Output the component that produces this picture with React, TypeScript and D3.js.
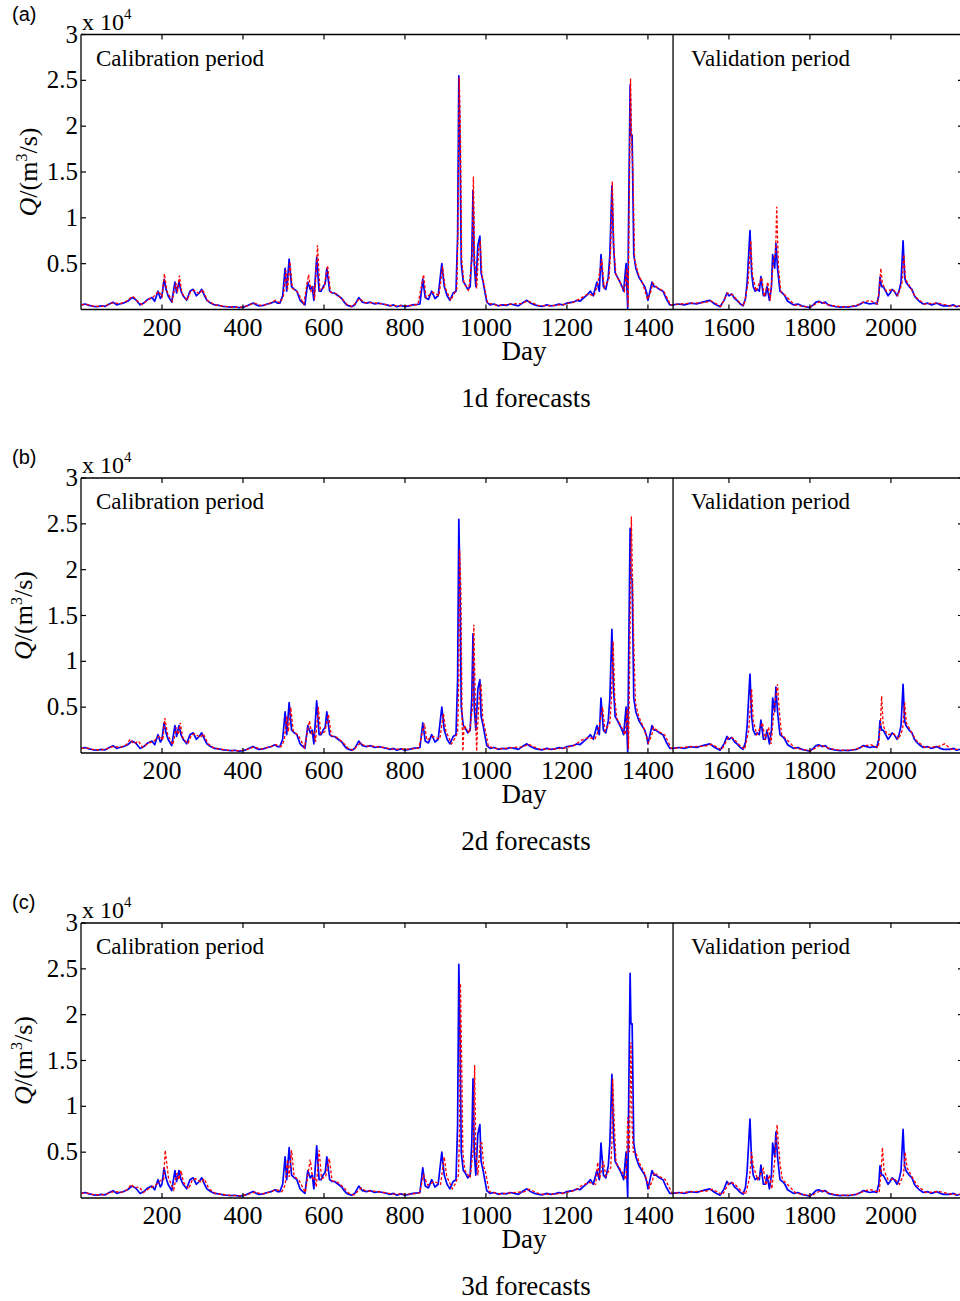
import React from "react";
import * as d3 from "d3";

// Observed daily discharge (day, m3/s)
const observed: [number, number][] = [
[1,500],[10,600],[20,450],[30,350],[40,300],[50,400],[60,350],[70,600],[79,800],[88,500],[95,600],[105,700],[115,900],[126,1300],[135,1100],[146,500],[155,700],[165,1100],[175,1300],[182,900],[190,2000],[196,1200],[200,1500],[205,3300],[210,2200],[215,1500],[224,800],[232,3000],[236,1800],[242,3000],[247,2000],[252,1500],[261,1000],[269,2000],[277,2200],[285,1500],[292,1800],[298,2200],[305,1500],[311,1000],[320,700],[330,500],[340,450],[350,350],[360,300],[370,250],[380,300],[390,200],[400,250],[410,400],[425,700],[433,500],[440,400],[450,450],[460,600],[470,700],[479,900],[485,700],[491,700],[498,1500],[504,4500],[508,2000],[514,5500],[520,2500],[527,2200],[533,2000],[541,1000],[548,700],[553,500],[560,3000],[566,2200],[571,2500],[575,1000],[582,5700],[588,2000],[593,2000],[598,2500],[603,2800],[607,4500],[614,2000],[620,1800],[626,1800],[635,1500],[644,1200],[650,800],[656,500],[662,400],[668,300],[676,500],[686,1300],[695,800],[705,700],[715,800],[725,600],[735,700],[745,600],[755,500],[763,400],[772,500],[780,300],[790,450],[800,300],[810,400],[820,500],[830,550],[837,600],[844,3300],[850,1300],[858,1100],[866,2000],[874,1200],[882,1500],[891,5000],[897,2500],[904,1500],[911,1000],[919,1800],[926,2000],[930,8000],[933,25500],[936,18000],[939,5000],[944,3000],[948,2800],[955,2200],[961,2500],[965,6000],[968,13000],[971,5000],[975,2500],[980,7000],[985,8000],[988,4000],[993,3000],[1002,800],[1010,500],[1020,600],[1030,400],[1040,500],[1050,450],[1060,600],[1070,500],[1080,400],[1090,700],[1101,1000],[1110,700],[1120,500],[1130,400],[1140,350],[1150,500],[1160,400],[1170,450],[1180,600],[1190,500],[1200,700],[1215,800],[1225,1000],[1232,900],[1242,1300],[1250,1600],[1258,2000],[1265,1500],[1274,3000],[1280,2000],[1284,6000],[1290,2500],[1296,2200],[1302,3500],[1306,6000],[1311,13500],[1315,7000],[1319,4000],[1325,3500],[1331,3000],[1336,2500],[1340,2000],[1346,5000],[1350,100],[1353,13000],[1356,24500],[1358,19000],[1361,19000],[1365,6000],[1370,4500],[1378,3500],[1385,3000],[1392,2500],[1397,1800],[1400,1000],[1405,2000],[1410,3000],[1415,2500],[1420,2500],[1428,2200],[1437,2000],[1445,1200],[1454,500],[1462,500],[1475,600],[1490,500],[1505,700],[1520,600],[1535,800],[1553,1000],[1565,600],[1578,300],[1588,1000],[1595,1800],[1600,1500],[1607,1700],[1614,1200],[1620,1000],[1628,600],[1635,400],[1641,1200],[1645,3000],[1652,8600],[1656,4000],[1660,2500],[1665,2000],[1670,2200],[1675,2000],[1679,3600],[1685,1500],[1690,1500],[1694,2500],[1700,1000],[1705,2500],[1708,6000],[1713,4500],[1716,7200],[1720,4500],[1726,2000],[1732,1800],[1738,1500],[1745,900],[1752,700],[1760,500],[1770,600],[1780,400],[1790,300],[1800,200],[1808,500],[1815,800],[1822,900],[1830,700],[1838,800],[1845,500],[1855,400],[1865,300],[1875,250],[1885,300],[1895,250],[1905,350],[1915,400],[1925,600],[1931,800],[1940,700],[1948,600],[1958,700],[1965,600],[1970,1500],[1973,3500],[1977,2500],[1981,2500],[1987,2000],[1993,1500],[1998,1800],[2003,2200],[2008,2000],[2015,1500],[2020,2000],[2025,3000],[2030,7500],[2034,3500],[2037,3000],[2045,2500],[2052,2200],[2058,1500],[2063,1200],[2070,900],[2080,600],[2090,700],[2100,500],[2113,700],[2122,500],[2130,400],[2145,400],[2155,500],[2162,300],[2172,400]
];

// 1-day-ahead forecasts
const forecast1d: [number, number][] = [
[1,500],[15,550],[30,380],[45,330],[60,380],[72,650],[82,750],[95,600],[110,850],[128,1450],[140,900],[150,550],[167,1100],[177,1300],[192,2000],[200,1400],[206,3900],[212,2000],[225,900],[234,2900],[238,1900],[243,3700],[249,1800],[262,1000],[271,2000],[279,2100],[293,1700],[300,2200],[312,1000],[330,500],[350,380],[370,270],[392,230],[412,420],[427,700],[445,420],[462,600],[480,1000],[492,700],[500,1500],[506,4300],[510,2200],[516,5200],[522,2300],[535,1900],[550,600],[562,3800],[568,2000],[573,2400],[577,1100],[584,7000],[590,2100],[600,2400],[609,4800],[616,1900],[630,1700],[646,1100],[658,500],[670,320],[688,1200],[700,750],[720,750],[745,600],[765,420],[790,430],[810,420],[832,550],[846,3800],[852,1300],[868,1900],[884,1500],[893,4700],[899,2400],[913,1000],[921,1700],[928,2200],[931,9000],[934,25300],[937,19000],[940,5500],[946,2800],[957,2100],[966,5500],[969,14500],[972,5500],[977,2300],[982,6500],[986,7500],[990,3800],[995,2800],[1004,700],[1030,430],[1060,580],[1090,680],[1103,950],[1130,420],[1160,420],[1190,520],[1217,800],[1233,1200],[1252,1700],[1267,1500],[1276,2800],[1286,5500],[1292,2400],[1304,3400],[1308,6500],[1312,14000],[1316,6500],[1321,3800],[1333,2800],[1342,2000],[1348,4500],[1351,300],[1354,12000],[1357,25200],[1360,18000],[1363,15000],[1367,5500],[1375,4000],[1387,2800],[1399,1100],[1407,1900],[1412,2900],[1422,2400],[1439,2000],[1456,500],[1480,600],[1510,700],[1540,750],[1555,950],[1580,350],[1597,1800],[1609,1600],[1622,950],[1637,400],[1647,2800],[1654,7500],[1658,3800],[1667,2000],[1681,3500],[1687,1400],[1696,3000],[1702,1000],[1710,5500],[1715,6000],[1718,11200],[1722,4800],[1728,2000],[1740,1500],[1762,500],[1800,250],[1824,850],[1850,450],[1880,280],[1910,380],[1933,800],[1948,1000],[1967,600],[1972,2500],[1975,4500],[1979,2800],[1989,2000],[2005,2200],[2017,1500],[2027,2800],[2032,6000],[2036,3300],[2047,2500],[2060,1400],[2082,600],[2115,700],[2147,400],[2172,400]
];

// 2-day-ahead forecasts
const forecast2d: [number, number][] = [
[1,500],[15,550],[30,380],[45,330],[60,380],[72,650],[84,700],[97,600],[112,900],[122,1500],[130,1000],[142,1300],[152,600],[168,1100],[180,1300],[194,1900],[202,1400],[207,3800],[214,2000],[227,900],[235,2800],[240,2000],[245,3300],[251,1700],[264,1000],[273,2000],[281,2100],[295,1700],[302,2100],[314,1000],[330,500],[350,380],[370,270],[392,230],[412,420],[428,650],[445,420],[462,600],[481,900],[494,700],[502,1400],[508,4000],[512,2300],[518,5000],[524,2400],[537,1900],[552,600],[564,3500],[570,2100],[575,2300],[579,1200],[586,5000],[592,2100],[602,2300],[611,4200],[618,1900],[632,1700],[648,1100],[660,500],[672,320],[690,1100],[702,750],[722,750],[747,600],[767,420],[792,430],[812,420],[834,550],[848,3200],[854,1400],[870,1800],[886,1500],[895,4300],[901,2400],[915,1000],[923,1600],[930,2200],[933,8000],[935,22200],[938,18000],[941,4000],[943,200],[946,3000],[959,2200],[967,5000],[970,14000],[974,5000],[977,200],[979,2500],[984,6500],[988,7500],[992,3800],[997,2800],[1006,700],[1032,430],[1062,580],[1092,680],[1105,950],[1132,420],[1162,420],[1192,520],[1219,850],[1236,1400],[1254,1700],[1269,1500],[1278,2500],[1288,5000],[1294,2400],[1306,3300],[1310,6000],[1314,12200],[1318,6000],[1323,3800],[1335,2800],[1344,2000],[1349,4800],[1352,400],[1355,10000],[1359,25800],[1362,19000],[1365,12000],[1369,5500],[1377,4000],[1389,2800],[1401,1100],[1409,1900],[1414,2800],[1424,2400],[1441,2000],[1458,500],[1482,600],[1512,700],[1542,750],[1557,950],[1582,350],[1599,1700],[1611,1600],[1624,950],[1639,400],[1649,2500],[1656,7000],[1660,3500],[1669,2000],[1683,3300],[1689,1400],[1698,2800],[1704,1000],[1712,5000],[1717,6500],[1720,7500],[1724,4800],[1730,2000],[1742,1500],[1764,500],[1802,250],[1826,850],[1852,450],[1882,280],[1912,380],[1935,800],[1950,900],[1969,600],[1974,3000],[1977,6200],[1981,3000],[1991,2000],[2007,2100],[2019,1500],[2029,2600],[2034,5500],[2038,3300],[2049,2400],[2062,1400],[2084,600],[2117,700],[2133,1000],[2149,400],[2172,400]
];

// 3-day-ahead forecasts
const forecast3d: [number, number][] = [
[1,500],[15,550],[30,380],[45,330],[60,380],[74,650],[86,700],[99,600],[114,900],[124,1500],[132,1100],[144,1200],[154,600],[170,1100],[182,1300],[196,1900],[204,2000],[208,5200],[216,2200],[229,900],[237,2700],[242,2000],[247,3000],[253,1700],[266,1000],[275,2000],[283,2100],[297,1700],[304,2100],[316,1000],[332,500],[352,380],[372,270],[394,230],[414,420],[430,650],[447,420],[464,600],[483,900],[496,700],[504,1400],[510,4200],[514,2300],[520,5200],[526,2400],[539,1900],[554,600],[566,4200],[572,2100],[577,2300],[581,1200],[588,5200],[594,2100],[604,2300],[613,4300],[620,1900],[634,1700],[650,1100],[662,500],[674,320],[692,1100],[704,750],[724,750],[749,600],[769,420],[794,430],[814,420],[836,550],[846,2500],[856,1400],[872,1800],[888,1500],[897,4500],[903,2400],[917,1000],[925,1600],[932,2500],[935,8000],[937,23400],[940,15000],[943,5000],[948,3000],[961,2200],[969,5500],[972,14500],[975,5000],[980,2500],[986,6000],[990,6000],[994,3500],[999,2800],[1008,700],[1034,430],[1064,580],[1094,680],[1107,950],[1134,420],[1164,420],[1194,520],[1221,850],[1238,1400],[1256,1700],[1271,1500],[1276,3900],[1281,2200],[1290,4000],[1296,2400],[1308,3300],[1311,6000],[1313,13000],[1317,8000],[1321,4000],[1326,3500],[1337,2800],[1346,2000],[1350,8800],[1354,5000],[1358,17000],[1361,8000],[1364,5000],[1370,5000],[1379,3800],[1391,2800],[1403,1100],[1411,1900],[1416,2800],[1426,2400],[1443,2000],[1460,500],[1484,600],[1514,700],[1544,750],[1559,950],[1584,350],[1601,1700],[1613,1600],[1626,950],[1641,400],[1651,2200],[1656,5000],[1660,3500],[1671,2000],[1685,3200],[1691,1400],[1700,2500],[1706,1000],[1714,4500],[1719,8000],[1722,6000],[1726,3800],[1732,2000],[1744,1500],[1766,500],[1804,250],[1828,850],[1854,450],[1884,280],[1914,380],[1937,800],[1952,900],[1971,600],[1976,3000],[1979,5500],[1983,3000],[1993,2000],[2009,2100],[2021,1500],[2031,2500],[2035,5000],[2040,3300],[2051,2400],[2064,1400],[2086,600],[2119,700],[2151,400],[2172,400]
];

const xTicks = [200, 400, 600, 800, 1000, 1200, 1400, 1600, 1800, 2000];
const yTicks = [0.5, 1, 1.5, 2, 2.5, 3];
const yTickLabels = ["0.5", "1", "1.5", "2", "2.5", "3"];
const panelLetters = ["(a)", "(b)", "(c)"];
const panelTitles = ["1d forecasts", "2d forecasts", "3d forecasts"];
const forecasts = [forecast1d, forecast2d, forecast3d];
const splitDay = 1462;
const xMax = 2178;
const yMax = 30000;

const SERIF = "'Liberation Serif', 'Times New Roman', serif";
const SANS = "'Liberation Sans', Arial, sans-serif";

const panelTops = [34.5, 478, 923];
const panelH = 275;
const left = 81;
const right = 963;

function Panel({ idx }: { idx: number }) {
  const top = panelTops[idx];
  const bottom = top + panelH;
  const x = d3.scaleLinear().domain([0, xMax]).range([left, right]);
  const y = d3.scaleLinear().domain([0, yMax]).range([bottom, top]);
  const line = d3
    .line<[number, number]>()
    .x((d) => x(d[0]))
    .y((d) => y(d[1]));
  const clipId = `clip${idx}`;
  const tl = 5;
  const ylabX = idx === 0 ? 37 : 32;
  const ymid = (top + bottom) / 2;
  return (
    <g>
      <defs>
        <clipPath id={clipId}>
          <rect x={left} y={top - 1} width={right - left} height={panelH + 1} />
        </clipPath>
      </defs>
      <text x={12} y={top - 14} fontFamily={SANS} fontSize={20}>
        {panelLetters[idx]}
      </text>
      {/* lines */}
      <g clipPath={`url(#${clipId})`}>
        <path d={line(observed) || ""} fill="none" stroke="#0000ff" strokeWidth={1.7} strokeLinejoin="round" />
        <path d={line(forecasts[idx]) || ""} fill="none" stroke="#ff0000" strokeWidth={1.3} strokeDasharray="3,2" />
      </g>
      {/* frame */}
      <line x1={left} x2={right} y1={top} y2={top} stroke="#000" strokeWidth={1.3} />
      <line x1={left} x2={right} y1={bottom} y2={bottom} stroke="#000" strokeWidth={1.7} />
      <line x1={left} x2={left} y1={top} y2={bottom} stroke="#000" strokeWidth={1.3} />
      <line x1={right} x2={right} y1={top} y2={bottom} stroke="#000" strokeWidth={1.3} />
      <line x1={x(splitDay)} x2={x(splitDay)} y1={top} y2={bottom} stroke="#000" strokeWidth={1.3} />
      {xTicks.map((t) => (
        <g key={t}>
          <line x1={x(t)} x2={x(t)} y1={bottom} y2={bottom - tl} stroke="#000" strokeWidth={1.2} />
          <line x1={x(t)} x2={x(t)} y1={top} y2={top + tl} stroke="#000" strokeWidth={1.2} />
          <text x={x(t)} y={bottom + 26} textAnchor="middle" fontFamily={SERIF} fontSize={26}>
            {t}
          </text>
        </g>
      ))}
      {yTicks.map((t, i) => (
        <g key={t}>
          <line x1={left} x2={left + tl} y1={y(t * 1e4)} y2={y(t * 1e4)} stroke="#000" strokeWidth={1.2} />
          <line x1={right} x2={right - tl} y1={y(t * 1e4)} y2={y(t * 1e4)} stroke="#000" strokeWidth={1.2} />
          <text x={left - 3} y={y(t * 1e4) + 8} textAnchor="end" fontFamily={SERIF} fontSize={25}>
            {yTickLabels[i]}
          </text>
        </g>
      ))}
      <text x={left + 1} y={top - 5} fontFamily={SERIF} fontSize={24}>
        x 10
        <tspan dy={-11} fontSize={15}>4</tspan>
      </text>
      <text
        transform={`translate(${ylabX},${ymid}) rotate(-90)`}
        textAnchor="middle"
        fontFamily={SERIF}
        fontSize={26}
      >
        <tspan fontStyle="italic">Q</tspan>/(m
        <tspan dy={-10} fontSize={16}>3</tspan>
        <tspan dy={10}>/s)</tspan>
      </text>
      <text x={96} y={top + 31} fontFamily={SERIF} fontSize={23}>
        Calibration period
      </text>
      <text x={691} y={top + 31} fontFamily={SERIF} fontSize={23}>
        Validation period
      </text>
      <text x={x(1000) + 38} y={bottom + 50} textAnchor="middle" fontFamily={SERIF} fontSize={27}>
        Day
      </text>
      <text x={526} y={bottom + 97} textAnchor="middle" fontFamily={SERIF} fontSize={27}>
        {panelTitles[idx]}
      </text>
    </g>
  );
}

export default function App() {
  return (
    <div style={{ position: "absolute", left: 0, top: 0, width: 960, height: 1301, overflow: "hidden", background: "#fff" }}>
      <svg width={960} height={1301} viewBox="0 0 960 1301" style={{ display: "block" }}>
        <rect width={960} height={1301} fill="#fff" />
        {[0, 1, 2].map((i) => (
          <Panel key={i} idx={i} />
        ))}
      </svg>
    </div>
  );
}
